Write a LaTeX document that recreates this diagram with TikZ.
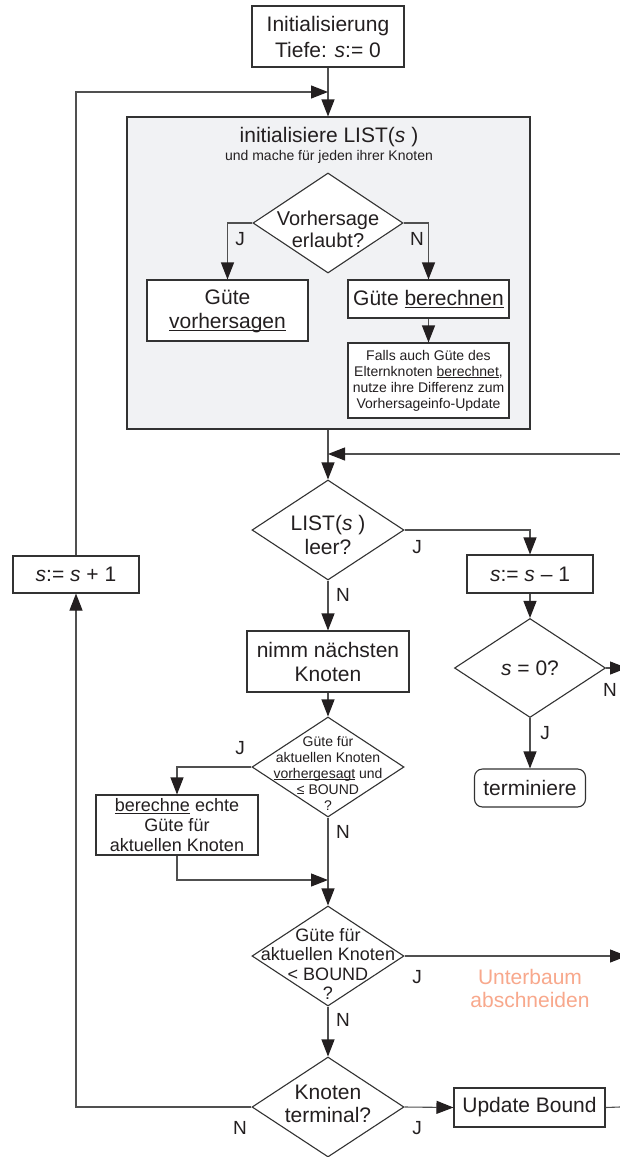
\documentclass[tikz,border=0pt]{standalone}
\usepackage{fontspec}
\setmainfont{Liberation Sans}
\usetikzlibrary{arrows.meta,shapes.geometric}
\definecolor{ink}{RGB}{35,31,32}
\definecolor{wire}{RGB}{80,80,80}
\definecolor{frame}{RGB}{50,50,50}
\definecolor{panel}{RGB}{241,242,244}
\definecolor{prune}{RGB}{248,168,140}
\newcommand\fsL{\fontsize{21}{24}\selectfont}
\newcommand\fsM{\fontsize{18}{19.6}\selectfont}
\newcommand\fsS{\fontsize{14}{16}\selectfont}
\newcommand\ul[1]{\underline{\raisebox{0pt}[\height][0pt]{#1}}}
\newcommand\var[1]{\textit{#1}}

\begin{document}
\begin{tikzpicture}[x=1pt,y=-1pt,
  every node/.style={text=ink, inner sep=0pt},
  box/.style={draw=frame, line width=1.1pt, fill=white, align=center, font=\fsL},
  dia/.style={draw=frame, line width=1.1pt, fill=white, diamond,
              minimum width=152pt, minimum height=100pt},
  diatext/.style={align=center},
  lbl/.style={font=\fontsize{19}{20}\selectfont},
  flow/.style={draw=wire, line width=1.1pt,
               -{Triangle[length=17pt,width=13pt,color=ink]}},
  wire/.style={draw=wire, line width=1.1pt},
]
\clip (0,0) rectangle (620,1157);
\fill[white] (0,0) rectangle (620,1157);

% start
\node[box, font=\fontsize{21}{26}\selectfont, minimum width=152pt, minimum height=61pt]
  (init) at (328,36.5) {Initialisierung\\Tiefe: \var{s}:= 0};

% grey block: initialise LIST(s) and evaluate every node
\node[draw=frame, line width=1.1pt, fill=panel, minimum width=403pt, minimum height=312pt]
  (panel) at (328.5,273) {};
\node[font=\fsL] (ptitle) at (329,137) {initialisiere LIST(\var{s} )};
\node[font=\fsS] (psub) at (329,157) {und mache für jeden ihrer Knoten};

\node[dia, minimum width=150pt] (dv) at (328,223) {};
\node[diatext, font=\fontsize{20}{22}\selectfont] (dvt) at (328,229) {Vorhersage\\erlaubt?};
\node[box, minimum width=161pt, minimum height=61pt] (gv) at (227.5,310.5) {Güte\\\ul{vorhersagen}};
\node[box, minimum width=161pt, minimum height=38pt] (gb) at (428.5,299) {Güte \ul{berechnen}};
\node[box, font=\fsS, minimum width=161pt, minimum height=75pt] (falls) at (428.5,380.5)
  {Falls auch Güte des\\Elternknoten \ul{berechnet},\\nutze ihre Differenz zum\\Vorhersageinfo-Update};

\draw[flow] (dv.west) -| (gv.north);
\draw[flow] (dv.east) -| (gb.north);
\draw[flow] (gb) -- (falls);
\node[lbl] (jv) at (240,239) {J};
\node[lbl] (nv) at (417,239) {N};

% main loop
\node[dia] (dl) at (328,530) {};
\node[diatext, font=\fsL] (dlt) at (328,535) {LIST(\var{s} )\\leer?};
\node[box, minimum width=126pt, minimum height=38pt] (minus) at (530,574) {\var{s}:= \var{s} – 1};
\node[box, minimum width=126pt, minimum height=37pt] (plus) at (76,574.5) {\var{s}:= \var{s} + 1};
\node[dia, minimum width=151pt, minimum height=99pt] (dz) at (530,668) {};
\node[font=\fsL] (dzt) at (530,668) {\var{s} = 0?};
\node[box, rounded corners=8pt, minimum width=111pt, minimum height=38pt] (term) at (530,788) {terminiere};
\node[box, minimum width=162pt, minimum height=61pt] (nimm) at (328,661.5) {nimm nächsten\\Knoten};

\node[dia] (dg1) at (328,767) {};
\node[diatext, font=\fsS] (dg1t) at (328,773)
  {Güte für\\aktuellen Knoten\\\ul{vorhergesagt} und\\≤ BOUND\\?};
\node[box, font=\fsM, minimum width=162pt, minimum height=60pt] (ber) at (177,825)
  {\ul{berechne} echte\\Güte für\\aktuellen Knoten};

\node[dia] (dg2) at (328,956) {};
\node[diatext, font=\fsM] (dg2t) at (328,964) {Güte für\\aktuellen Knoten\\< BOUND\\?};
\node[align=center, font=\fontsize{21}{23}\selectfont, text=prune] (cutlbl) at (530,988)
  {Unterbaum\\abschneiden};

\node[dia] (dk) at (328,1107) {};
\node[diatext, font=\fontsize{21}{23}\selectfont] (dkt) at (328,1103.5) {Knoten\\terminal?};
\node[box, minimum width=151pt, minimum height=39pt] (upd) at (529.5,1107.5) {Update Bound};

% junction points and free ends
\coordinate (jtop) at (328,92);
\coordinate (rin) at (620,454);
\coordinate (rjoin) at (328,454);
\coordinate (zout) at (627,668);
\coordinate (j2) at (328,880);
\coordinate (cut) at (627,956);
\coordinate (uout) at (620,1107);

% connectors
\draw[flow] (init.south) -- (init.south |- panel.north);
\draw[flow] (plus.north) |- (jtop);
\draw[flow] (dl.north |- panel.south) -- (dl.north);
\draw[flow] (rin) -- (rjoin);
\draw[flow] (dl.east) -| (minus.north);
\draw[flow] (minus) -- (dz.north);
\draw[flow] (dz.east) -- (zout);
\draw[flow] (dz.south) -- (term.north);
\draw[flow] (dl.south) -- (nimm.north);
\draw[flow] (nimm) -- (dg1.north);
\draw[flow] (dg1.west) -| (ber.north);
\draw[flow] (ber.south) |- (j2);
\draw[flow] (dg1.south) -- (dg2.north);
\draw[flow] (dg2.east) -- (cut);
\draw[flow] (dg2.south) -- (dk.north);
\draw[flow] (dk.east) -- (upd.west);
\draw[wire] (upd.east) -- (uout);
\draw[flow] (dk.west) -| (plus.south);

% branch labels
\node[lbl] (jl) at (417,547) {J};
\node[lbl] (nl) at (343,595) {N};
\node[lbl] (nz) at (610,690) {N};
\node[lbl] (jz) at (545,733) {J};
\node[lbl] (jg1) at (240,748) {J};
\node[lbl] (ng1) at (343,832) {N};
\node[lbl] (jg2) at (417,977) {J};
\node[lbl] (ng2) at (343,1020) {N};
\node[lbl] (jk) at (417,1128) {J};
\node[lbl] (nk) at (240,1128) {N};
\end{tikzpicture}
\end{document}
